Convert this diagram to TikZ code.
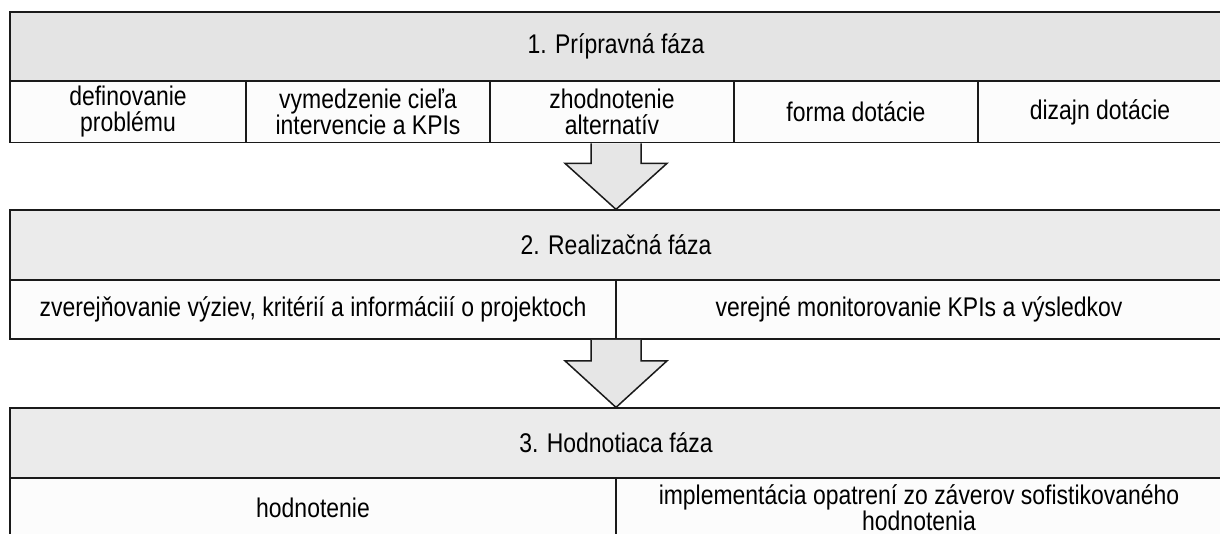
\documentclass[tikz,border=0pt]{standalone}
\usepackage{fontspec}
\setmainfont[FakeStretch=0.85]{Liberation Sans}
\usetikzlibrary{calc}
\definecolor{bandA}{HTML}{E4E4E4}
\definecolor{bandB}{HTML}{EBEBEB}
\definecolor{cellC}{HTML}{FCFCFC}
\definecolor{arrowC}{HTML}{E6E6E6}
\definecolor{lineC}{HTML}{1A1A1A}
\newcommand\diagfont{\fontsize{27}{26}\selectfont}
\begin{document}
\begin{tikzpicture}[x=1pt,y=-1pt,
  frame/.style={draw=lineC, line width=1.7pt},
  band/.style={frame, fill=#1, inner sep=0pt, font=\diagfont, minimum width=1212pt, minimum height=69.5pt},
  cellbox/.style={frame, fill=cellC, inner sep=0pt, align=center, font=\diagfont},
  rowA/.style={cellbox, minimum height=61pt},
  rowB/.style={cellbox, minimum width=606pt, minimum height=59pt},
  flowarrow/.style={draw=lineC, line width=1.5pt, fill=arrowC, line join=miter}]
\fill[white] (0,0) rectangle (1220,534);
\useasboundingbox (0,0) rectangle (1220,534);
% phase 1
\node[band=bandA] (f1) at (616,46.5) {1. Prípravná fáza};
\node[rowA, minimum width=236pt] (c11) at (128,112) {definovanie\\problému};
\node[rowA, minimum width=244pt] (c12) at (368,112) {vymedzenie cieľa\\intervencie a KPIs};
\node[rowA, minimum width=244pt] (c13) at (612,112) {zhodnotenie\\alternatív};
\node[rowA, minimum width=244pt] (c14) at (856,112) {forma dotácie};
\node[rowA, minimum width=244pt] (c15) at (1100,112) {dizajn dotácie};
% phase 2
\node[band=bandB] (f2) at (616,245) {2. Realizačná fáza};
\node[rowB] (c21) at (313,309.5) {zverejňovanie výziev, kritérií a informáciií o projektoch};
\node[rowB] (c22) at (919,309.5) {verejné monitorovanie KPIs a výsledkov};
% phase 3
\node[band=bandB] (f3) at (616,443) {3. Hodnotiaca fáza};
\node[rowB] (c31) at (313,507.5) {hodnotenie};
\node[rowB] (c32) at (919,507.5) {implementácia opatrení zo záverov sofistikovaného\\hodnotenia};
% arrows
\coordinate (a1) at ($(f1.center |- c13.south)$);
\coordinate (a2) at ($(f2.center |- c21.south)$);
\draw[flowarrow] (a1) ++(-25,0) -- ++(0,20) -- ++(-26,0) -- (f2.north) -- ($(a1)+(51,20)$) -- ++(-26,0) -- ++(0,-20);
\draw[flowarrow] (a2) ++(-25,0) -- ++(0,21) -- ++(-26,0) -- (f3.north) -- ($(a2)+(51,21)$) -- ++(-26,0) -- ++(0,-21);
\end{tikzpicture}
\end{document}
